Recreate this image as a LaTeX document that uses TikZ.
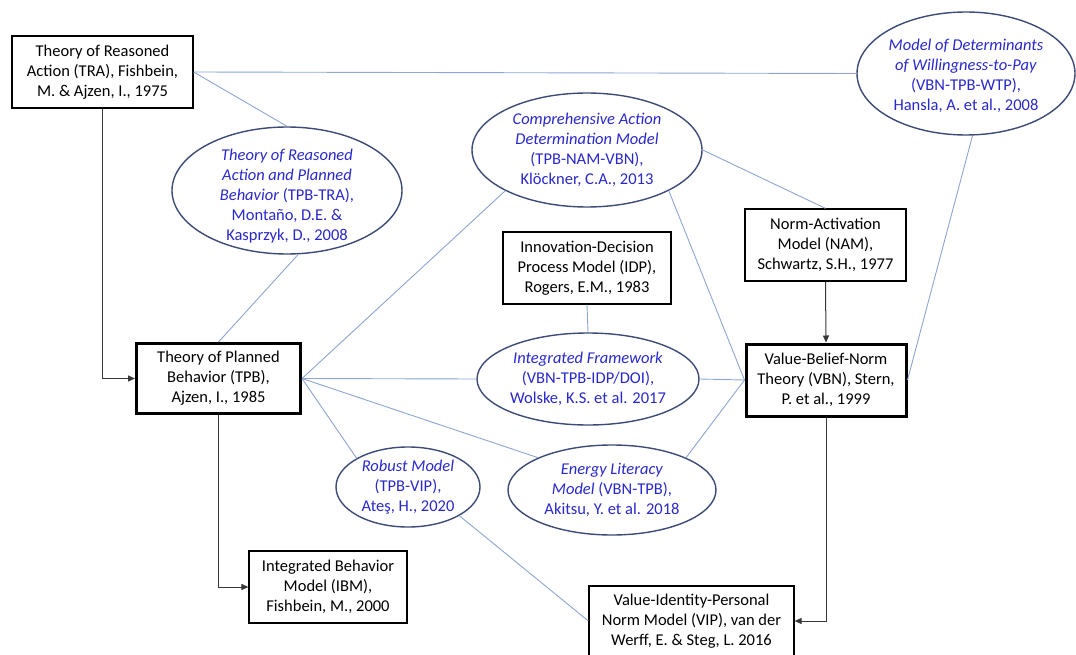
\documentclass[tikz,border=0pt]{standalone}
\usepackage{fontspec}
\setmainfont{Carlito}
\usetikzlibrary{arrows.meta,shapes.geometric}
\definecolor{LinkClr}{RGB}{140,165,210}
\definecolor{BubbleClr}{RGB}{60,75,120}
\definecolor{BubbleTxt}{RGB}{40,40,205}
\definecolor{ArrowClr}{RGB}{55,55,55}

\tikzset{
  box/.style={draw=black, line width=1.2pt, align=center, inner sep=2pt},
  mainbox/.style={box, line width=3pt},
  bubble/.style={ellipse, draw=BubbleClr, line width=1.4pt, inner sep=0pt},
  btext/.style={text=BubbleTxt, align=center},
  link/.style={draw=LinkClr, line width=0.9pt},
  arr/.style={draw=ArrowClr, line width=1pt, -{Triangle[length=7pt,width=6pt]}},
}

\begin{document}
\begin{tikzpicture}[x=1pt,y=-1pt,font=\fontsize{16.5}{20}\selectfont]
\useasboundingbox (0,0) rectangle (1076,655);

% boxes
\node[box, minimum width=181, minimum height=72] (tra) at (102.5,72) {Theory of Reasoned\\Action (TRA), Fishbein,\\M. \& Ajzen, I., 1975};
\node[mainbox, minimum width=164, minimum height=70] (tpb) at (218.5,378.5) {Theory of Planned\\Behavior (TPB),\\Ajzen, I., 1985};
\node[box, minimum width=158, minimum height=72] (ibm) at (328,587) {Integrated Behavior\\Model (IBM),\\Fishbein, M., 2000};
\node[box, minimum width=168, minimum height=72] (idp) at (587,268) {Innovation-Decision\\Process Model (IDP),\\Rogers, E.M., 1983};
\node[box, minimum width=161, minimum height=72] (nam) at (825.5,245) {Norm-Activation\\Model (NAM),\\Schwartz, S.H., 1977};
\node[mainbox, minimum width=160, minimum height=72] (vbn) at (826,380) {Value-Belief-Norm\\Theory (VBN), Stern,\\P. et al., 1999};
\node[box, minimum width=205, minimum height=70] (vip) at (691.5,621) {Value-Identity-Personal\\Norm Model (VIP), van der\\Werff, E. \& Steg, L. 2016};

% ellipses
\node[bubble, minimum width=230, minimum height=127,
  label={[btext,yshift=-6]center:{\textit{Theory of Reasoned}\\\textit{Action and Planned}\\\textit{Behavior} (TPB-TRA),\\Montaño, D.E. \&\\Kasprzyk, D., 2008}}] (tpbtra) at (287,190.5) {};
\node[bubble, minimum width=230, minimum height=114,
  label={[btext]center:{\textit{Comprehensive Action}\\\textit{Determination Model}\\(TPB-NAM-VBN),\\Klöckner, C.A., 2013}}] (cadm) at (587,150) {};
\node[bubble, minimum width=218, minimum height=123,
  label={[btext,yshift=-2]center:{\textit{Model of Determinants}\\\textit{of Willingness-to-Pay}\\(VBN-TPB-WTP),\\Hansla, A. et al., 2008}}] (wtp) at (966,73.5) {};
\node[bubble, minimum width=222, minimum height=92,
  label={[btext]center:{\textit{Integrated Framework}\\(VBN-TPB-IDP/DOI),\\Wolske, K.S. et al. 2017}}] (idf) at (588,379) {};
\node[bubble, minimum width=144, minimum height=80,
  label={[btext]center:{\textit{Robust Model}\\(TPB-VIP),\\Ateş, H., 2020}}] (robust) at (408,487) {};
\node[bubble, minimum width=208, minimum height=90,
  label={[btext]center:{\textit{Energy Literacy}\\\textit{Model} (VBN-TPB),\\Akitsu, Y. et al. 2018}}] (energy) at (612,490) {};

% links
\draw[link] (tra.east) -- (wtp.west);
\draw[link] (tra.east) -- (tpbtra.north);
\draw[link] (tpb.north) -- (tpbtra.-80);
\draw[link] (tpb.east) -- (cadm.south west);
\draw[link] (tpb.east) -- (idf.west);
\draw[link] (tpb.east) -- (robust.north west);
\draw[link] (tpb.east) -- (energy.north west);
\draw[link] (idp.south) -- (idf.north);
\draw[link] (idf.east) -- (vbn.west);
\draw[link] (energy.north east) -- (vbn.west);
\draw[link] (cadm.south east) -- (vbn.west);
\draw[link] (cadm.east) -- (nam.north);
\draw[link] (wtp.-84) -- (vbn.east);
\draw[link] (robust.south east) -- (vip.west);

% arrows
\draw[arr] (tra.south) |- (tpb.west);
\draw[arr] (tpb.south) |- (ibm.west);
\draw[arr] (nam.south) -- (vbn.north);
\draw[arr] (vbn.south) |- (vip.east);
\end{tikzpicture}
\end{document}
